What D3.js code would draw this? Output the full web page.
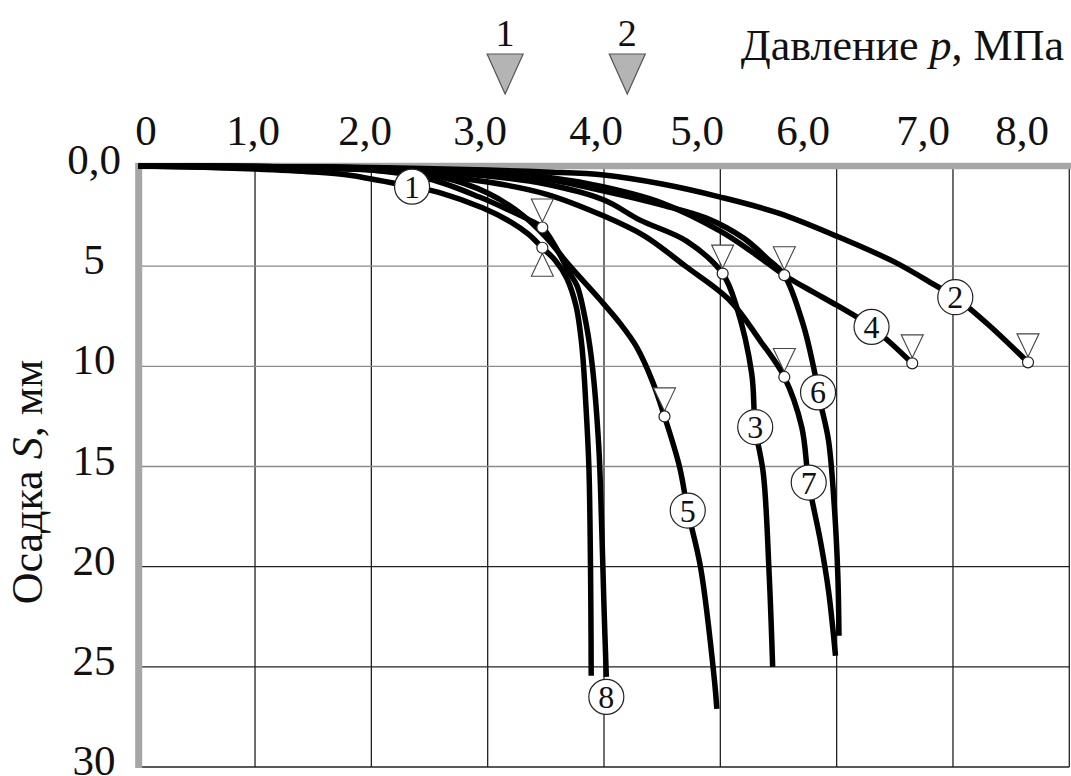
<!DOCTYPE html>
<html><head><meta charset="utf-8">
<script src="https://cdn.jsdelivr.net/npm/d3@7"></script>
<style>html,body{margin:0;padding:0;background:#fff;} svg{display:block;} text{font-family:"Liberation Serif","Times New Roman",serif;fill:#111;}</style>
</head><body>
<svg id="chart" width="1071" height="776"></svg>
<script>
// ---- data ----
const xTicks = [0,1,2,3,4,5,6,7,8];
const xTickLabels = ["0","1,0","2,0","3,0","4,0","5,0","6,0","7,0","8,0"];
const yTicks = [0,5,10,15,20,25,30];
const yTickLabels = ["0,0","5","10","15","20","25","30"];

const curve1 = [[0,0],[0.5,0.05],[1,0.15],[1.5,0.3],[1.8,0.45],[2.0,0.65],[2.35,1.03],[2.6,1.35],[2.96,2.1],[3.2,2.8],[3.35,3.4],[3.47,4.08],[3.58,4.7],[3.68,5.6],[3.76,7],[3.81,9],[3.845,12],[3.87,15],[3.88,18],[3.887,22],[3.89,25.45]];
const curve2 = [[0,0],[1,0.03],[2,0.08],[3,0.2],[3.5,0.3],[4,0.45],[4.5,0.9],[5,1.55],[5.5,2.35],[6,3.5],[6.5,4.8],[6.86,6.0],[7.02,6.55],[7.3,7.9],[7.645,9.8]];
const curve3 = [[0,0],[1,0.03],[2,0.12],[3,0.5],[3.5,0.9],[4,1.7],[4.31,2.7],[4.71,3.75],[5.02,5.37],[5.14,7.03],[5.27,10.37],[5.30,13.03],[5.37,15.37],[5.42,20.4],[5.45,25.0]];
const curve4 = [[0,0],[1,0.03],[2,0.1],[3,0.33],[3.5,0.55],[4,1.05],[4.5,1.85],[5.0,3.25],[5.3,4.4],[5.55,5.45],[5.8,6.3],[6.0,6.95],[6.3,8.03],[6.65,9.85]];
const curve5 = [[0,0],[1,0.04],[2,0.15],[2.6,0.55],[3.0,1.35],[3.3,2.45],[3.5,3.55],[3.7,4.95],[3.97,6.7],[4.14,7.87],[4.28,9.03],[4.42,10.8],[4.52,12.5],[4.65,15.03],[4.72,17.2],[4.83,20.03],[4.95,25.7],[4.97,27.1]];
const curve6 = [[0,0],[1,0.03],[2,0.1],[3,0.38],[3.5,0.65],[4,1.25],[4.5,1.95],[4.88,2.6],[5.2,3.6],[5.4,4.6],[5.55,5.45],[5.71,7.87],[5.80,10.0],[5.86,11.8],[5.93,13.7],[5.98,17.0],[6.01,20.4],[6.02,23.45]];
const curve7 = [[0,0],[1,0.04],[2,0.2],[3,0.8],[3.5,1.4],[4,2.5],[4.35,3.5],[4.7,5.0],[5.08,6.7],[5.34,8.7],[5.55,10.53],[5.70,13.03],[5.76,15.8],[5.86,18.7],[5.93,21.2],[5.99,24.45]];
const curve8 = [[0,0],[1,0.1],[2,0.2],[2.5,0.65],[2.93,1.55],[3.2,2.25],[3.36,2.7],[3.47,3.07],[3.58,4.0],[3.7,5.3],[3.77,6.0],[3.85,8.0],[3.90,10.0],[3.955,14],[3.98,18],[4.0,22],[4.02,25.5]];

const curveNames = ["1","2","3","4","5","6","7","8"];
const labelP = [2.35,7.02,5.30,6.30,4.72,5.84,5.76,4.02];
const labelS = [1.03,6.55,13.03,8.03,17.2,11.3,15.8,26.5];

const pointMarks = [[3.47,3.07],[3.47,4.08],[5.02,5.37],[5.55,5.45],[5.55,10.53],[4.52,12.5],[6.65,9.85],[7.645,9.8]];
const downTriMarks = [[3.47,3.07],[5.02,5.37],[5.55,5.45],[5.55,10.53],[4.52,12.5],[6.65,9.85],[7.645,9.8]];
const upTriMarks = [[3.47,4.08]];

const topMarkP = [3.15,4.20];
const topMarkText = ["1","2"];

// ---- drawing ----
const svg = d3.select("#chart");
const x = d3.scaleLinear().domain([0,8]).range([138.7,1069.3]);
const y = d3.scaleLinear().domain([0,30]).range([166,767]);
const labelX = d3.scaleLinear().domain(xTicks).range([146,253,365,480,596,697,803,923,1022]);

// grid
svg.append("g").selectAll("line").data(xTicks.slice(1)).join("line")
  .attr("x1",d=>x(d)).attr("x2",d=>x(d)).attr("y1",y(0)).attr("y2",y(30))
  .attr("stroke","#222").attr("stroke-width",1.3);
svg.append("g").selectAll("line").data(yTicks.slice(1)).join("line")
  .attr("x1",x(0)).attr("x2",x(8)).attr("y1",d=>y(d)).attr("y2",d=>y(d))
  .attr("stroke",d=>d<=15?"#8a8a8a":"#222").attr("stroke-width",d=>d==30?1.6:1.3);

// axis bars (gray)
svg.append("line").attr("x1",x(0)-3).attr("x2",x(8)+2).attr("y1",y(0)).attr("y2",y(0))
  .attr("stroke","#a6a6a6").attr("stroke-width",6.5);
svg.append("line").attr("x1",x(0)).attr("x2",x(0)).attr("y1",y(0)-3).attr("y2",y(30)+1)
  .attr("stroke","#a6a6a6").attr("stroke-width",7);

// tick labels
svg.append("g").selectAll("text").data(xTicks).join("text")
  .attr("x",d=>labelX(d)).attr("y",145).attr("text-anchor","middle")
  .attr("font-size",43).text((d,i)=>xTickLabels[i]);
svg.append("g").selectAll("text").data(yTicks).join("text")
  .attr("x",94).attr("y",d=>y(d)+8).attr("text-anchor","middle")
  .attr("font-size",43).text((d,i)=>yTickLabels[i]);

// axis titles
const xt = svg.append("text").attr("x",1064).attr("y",60).attr("text-anchor","end").attr("font-size",44);
xt.append("tspan").text("Давление ");
xt.append("tspan").attr("font-style","italic").text("p");
xt.append("tspan").text(", МПа");
const yt = svg.append("text").attr("transform","translate(42,482) rotate(-90)").attr("text-anchor","middle").attr("font-size",44);
yt.append("tspan").text("Осадка ");
yt.append("tspan").attr("font-style","italic").text("S");
yt.append("tspan").text(", мм");

// top markers
const tm = svg.append("g").selectAll("g").data(topMarkP).join("g");
tm.append("path").attr("d",d=>`M${x(d)-18},54 L${x(d)+18},54 L${x(d)},94 Z`)
  .attr("fill","#b4b4b4").attr("stroke","#555").attr("stroke-width",1.2);
tm.append("text").attr("x",d=>x(d)).attr("y",46).attr("text-anchor","middle")
  .attr("font-size",38).text((d,i)=>topMarkText[i]);

// curves
const line = d3.line().x(d=>x(d[0])).y(d=>y(d[1])).curve(d3.curveCatmullRom.alpha(0.5));
const curves = [curve1,curve2,curve3,curve4,curve5,curve6,curve7,curve8];
svg.append("g").selectAll("path").data(curves).join("path")
  .attr("d",line).attr("fill","none").attr("stroke","#000").attr("stroke-width",5.5)
  .attr("stroke-linecap","butt").attr("stroke-linejoin","round");

// triangles and points
const r = 5.5, tw = 11, th = 23;
svg.append("g").selectAll("path").data(downTriMarks).join("path")
  .attr("d",d=>{const cx=x(d[0]), cy=y(d[1])-r; return `M${cx-tw},${cy-th} L${cx+tw},${cy-th} L${cx},${cy} Z`;})
  .attr("fill","#fff").attr("stroke","#444").attr("stroke-width",1.1);
svg.append("g").selectAll("path").data(upTriMarks).join("path")
  .attr("d",d=>{const cx=x(d[0]), cy=y(d[1])+r; return `M${cx-tw},${cy+th} L${cx+tw},${cy+th} L${cx},${cy} Z`;})
  .attr("fill","#fff").attr("stroke","#444").attr("stroke-width",1.1);
svg.append("g").selectAll("circle").data(pointMarks).join("circle")
  .attr("cx",d=>x(d[0])).attr("cy",d=>y(d[1])).attr("r",r)
  .attr("fill","#fff").attr("stroke","#222").attr("stroke-width",1.2);

// curve labels
const lg = svg.append("g").selectAll("g").data(curveNames).join("g")
  .attr("transform",(d,i)=>`translate(${x(labelP[i])},${y(labelS[i])})`);
lg.append("circle").attr("r",17.5).attr("fill","#fff").attr("stroke","#222").attr("stroke-width",1.2);
lg.append("text").attr("y",11).attr("text-anchor","middle").attr("font-size",32).text(d=>d);
</script>
</body></html>
